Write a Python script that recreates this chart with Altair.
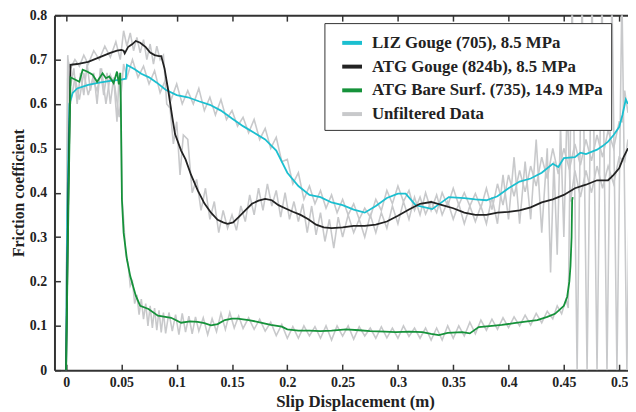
import altair as alt
import pandas as pd

LABELS = ["LIZ Gouge (705), 8.5 MPa", "ATG Gouge (824b), 8.5 MPa",
          "ATG Bare Surf. (735), 14.9 MPa", "Unfiltered Data"]
COLORS = ["#1bbfd0", "#222222", "#15923a", "#c8c9cb"]

# ---------- filtered curves ----------
liz_x = [0.0, 0.001, 0.003, 0.006, 0.01, 0.02, 0.03, 0.04, 0.05, 0.054, 0.055, 0.058, 0.062,
         0.068, 0.075, 0.082, 0.09, 0.1, 0.11, 0.12, 0.13, 0.14, 0.15, 0.16, 0.17, 0.18, 0.19,
         0.2, 0.21, 0.22, 0.23, 0.24, 0.25, 0.26, 0.27, 0.28, 0.29, 0.3, 0.307, 0.316, 0.331,
         0.346, 0.36, 0.37, 0.38, 0.39, 0.4, 0.41, 0.42, 0.43, 0.44, 0.445, 0.45, 0.46, 0.465,
         0.47, 0.48, 0.485, 0.49, 0.495, 0.5, 0.503, 0.506, 0.508]
liz_y = [0.0, 0.35, 0.6, 0.625, 0.635, 0.643, 0.648, 0.652, 0.655, 0.657, 0.688, 0.684, 0.678,
         0.668, 0.66, 0.648, 0.632, 0.62, 0.615, 0.606, 0.598, 0.585, 0.567, 0.55, 0.535, 0.52,
         0.495, 0.445, 0.415, 0.395, 0.39, 0.378, 0.372, 0.362, 0.355, 0.37, 0.388, 0.398,
         0.398, 0.372, 0.363, 0.39, 0.388, 0.385, 0.383, 0.392, 0.41, 0.425, 0.432, 0.445,
         0.465, 0.458, 0.478, 0.48, 0.49, 0.487, 0.497, 0.505, 0.515, 0.53, 0.548, 0.575,
         0.61, 0.6]

atg_x = [0.0, 0.002, 0.004, 0.01, 0.02, 0.03, 0.04, 0.046, 0.05, 0.052, 0.053, 0.056, 0.06,
         0.063, 0.067, 0.072, 0.076, 0.08, 0.084, 0.086, 0.089, 0.0925, 0.096, 0.0985, 0.104,
         0.108, 0.113, 0.119, 0.125, 0.131, 0.137, 0.142, 0.146, 0.151, 0.156, 0.162, 0.168,
         0.174, 0.18, 0.186, 0.192, 0.198, 0.205, 0.212, 0.219, 0.226, 0.233, 0.24, 0.25, 0.26,
         0.27, 0.28, 0.29, 0.3, 0.31, 0.32, 0.33, 0.34, 0.35, 0.36, 0.37, 0.38, 0.39, 0.4, 0.41,
         0.42, 0.43, 0.44, 0.45, 0.46, 0.47, 0.48, 0.49, 0.495, 0.5, 0.504, 0.508]
atg_y = [0.0, 0.4, 0.688, 0.69, 0.695, 0.705, 0.715, 0.72, 0.722, 0.72, 0.714, 0.728, 0.735,
         0.742, 0.738, 0.728, 0.716, 0.71, 0.708, 0.708, 0.68, 0.628, 0.57, 0.532, 0.495,
         0.475, 0.44, 0.405, 0.376, 0.355, 0.339, 0.333, 0.33, 0.333, 0.345, 0.36, 0.375,
         0.382, 0.386, 0.383, 0.372, 0.365, 0.357, 0.35, 0.34, 0.328, 0.322, 0.32, 0.322,
         0.325, 0.325, 0.328, 0.335, 0.348, 0.362, 0.375, 0.379, 0.372, 0.365, 0.355, 0.35,
         0.35, 0.355, 0.357, 0.36, 0.367, 0.378, 0.385, 0.395, 0.41, 0.418, 0.428, 0.428,
         0.44, 0.455, 0.48, 0.5]

bare_x = [0.0, 0.002, 0.004, 0.008, 0.012, 0.015, 0.019, 0.024, 0.028, 0.033, 0.036, 0.039,
          0.043, 0.046, 0.0477, 0.049, 0.0495, 0.0505, 0.052, 0.055, 0.058, 0.063, 0.067,
          0.0745, 0.083, 0.095, 0.104, 0.112, 0.119, 0.125, 0.131, 0.137, 0.1435, 0.15, 0.155,
          0.165, 0.173, 0.185, 0.195, 0.2, 0.21, 0.22, 0.23, 0.24, 0.253, 0.265, 0.275, 0.288,
          0.298, 0.31, 0.322, 0.33, 0.337, 0.345, 0.358, 0.365, 0.373, 0.385, 0.394, 0.405,
          0.417, 0.426, 0.435, 0.442, 0.447, 0.45, 0.453, 0.455, 0.456, 0.457, 0.4575, 0.458]
bare_y = [0.0, 0.35, 0.66, 0.655, 0.65, 0.677, 0.673, 0.666, 0.65, 0.669, 0.658, 0.662, 0.647,
          0.673, 0.644, 0.67, 0.6, 0.383, 0.31, 0.25, 0.212, 0.168, 0.145, 0.138, 0.123, 0.118,
          0.107, 0.11, 0.109, 0.106, 0.101, 0.104, 0.113, 0.116, 0.116, 0.113, 0.109, 0.102,
          0.098, 0.092, 0.089, 0.089, 0.088, 0.089, 0.092, 0.09, 0.088, 0.087, 0.086, 0.087,
          0.086, 0.082, 0.079, 0.084, 0.086, 0.083, 0.097, 0.1, 0.102, 0.106, 0.11, 0.113,
          0.12, 0.127, 0.138, 0.145, 0.165, 0.2, 0.235, 0.3, 0.383, 0.39]

# ---------- unfiltered (raw) data ----------
raw_liz_x = [0.0, 0.0015, 0.004, 0.008, 0.012, 0.016, 0.02, 0.024, 0.028, 0.032, 0.036, 0.04,
             0.044, 0.048, 0.052, 0.055, 0.06, 0.065, 0.07, 0.075, 0.08, 0.085, 0.09, 0.095,
             0.1, 0.105, 0.11, 0.115, 0.12, 0.125, 0.13, 0.135, 0.14, 0.145, 0.15, 0.155, 0.16,
             0.165, 0.17, 0.175, 0.18, 0.185, 0.19, 0.195, 0.2, 0.205, 0.21, 0.215, 0.22, 0.225,
             0.23, 0.235, 0.24, 0.245, 0.25, 0.255, 0.26, 0.265, 0.27, 0.275, 0.28, 0.285, 0.29,
             0.295, 0.3, 0.305, 0.31, 0.315, 0.32, 0.325, 0.33, 0.335, 0.34, 0.345, 0.35, 0.355,
             0.36, 0.365, 0.37, 0.375, 0.38, 0.385, 0.39, 0.395, 0.4, 0.405, 0.41, 0.415, 0.42,
             0.425, 0.43, 0.435, 0.44, 0.445, 0.45, 0.455, 0.46, 0.465, 0.47, 0.475, 0.48, 0.485,
             0.49, 0.495, 0.5, 0.503, 0.505, 0.508]
raw_liz_y = [0.0, 0.71, 0.6, 0.66, 0.61, 0.67, 0.62, 0.655, 0.63, 0.68, 0.6, 0.665, 0.64, 0.57,
             0.69, 0.66, 0.70, 0.66, 0.685, 0.645, 0.675, 0.625, 0.655, 0.61, 0.645, 0.6, 0.63,
             0.6, 0.635, 0.585, 0.615, 0.575, 0.61, 0.565, 0.585, 0.55, 0.57, 0.535, 0.565,
             0.52, 0.545, 0.5, 0.525, 0.47, 0.475, 0.42, 0.445, 0.385, 0.415, 0.375, 0.405,
             0.365, 0.395, 0.355, 0.385, 0.35, 0.375, 0.34, 0.365, 0.345, 0.385, 0.36, 0.405,
             0.375, 0.415, 0.38, 0.405, 0.36, 0.39, 0.352, 0.38, 0.355, 0.4, 0.37, 0.41, 0.372,
             0.4, 0.37, 0.398, 0.366, 0.41, 0.362, 0.42, 0.372, 0.44, 0.392, 0.45, 0.402, 0.46,
             0.415, 0.48, 0.432, 0.5, 0.442, 0.5, 0.452, 0.51, 0.462, 0.52, 0.472, 0.53, 0.48,
             0.54, 0.5, 0.56, 0.56, 0.63, 0.58]

raw_atg_x = [0.0, 0.0015, 0.004, 0.008, 0.012, 0.016, 0.02, 0.025, 0.03, 0.035, 0.04, 0.045,
             0.049, 0.052, 0.055, 0.058, 0.061, 0.064, 0.067, 0.07, 0.073, 0.076, 0.079, 0.082,
             0.085, 0.088, 0.091, 0.094, 0.097, 0.1, 0.103, 0.106, 0.11, 0.114, 0.118, 0.122,
             0.126, 0.13, 0.134, 0.138, 0.142, 0.146, 0.15, 0.154, 0.158, 0.162, 0.166, 0.17,
             0.174, 0.178, 0.182, 0.186, 0.19, 0.194, 0.198, 0.202, 0.206, 0.21, 0.214, 0.218,
             0.222, 0.226, 0.23, 0.234, 0.238, 0.242, 0.246, 0.25, 0.255, 0.26, 0.265, 0.27,
             0.275, 0.28, 0.285, 0.29, 0.295, 0.3, 0.305, 0.31, 0.315, 0.32, 0.325, 0.33, 0.335,
             0.34, 0.345, 0.35, 0.355, 0.36, 0.365, 0.37, 0.375, 0.38, 0.385, 0.39, 0.395, 0.4,
             0.405, 0.41, 0.415, 0.42, 0.425, 0.43, 0.435, 0.438, 0.441, 0.444, 0.447, 0.45,
             0.453, 0.456, 0.46, 0.465, 0.47, 0.475, 0.48, 0.485, 0.49, 0.495, 0.5, 0.505, 0.508]
raw_atg_y = [0.0, 0.7, 0.68, 0.7, 0.685, 0.71, 0.69, 0.72, 0.7, 0.73, 0.705, 0.74, 0.7, 0.765,
             0.73, 0.76, 0.72, 0.75, 0.715, 0.745, 0.7, 0.735, 0.69, 0.73, 0.7, 0.71, 0.6, 0.59,
             0.51, 0.56, 0.44, 0.53, 0.52, 0.4, 0.43, 0.36, 0.41, 0.34, 0.38, 0.31, 0.36, 0.32,
             0.35, 0.315, 0.37, 0.335, 0.395, 0.35, 0.41, 0.36, 0.42, 0.37, 0.405, 0.345, 0.4,
             0.34, 0.38, 0.335, 0.375, 0.31, 0.37, 0.305, 0.355, 0.29, 0.34, 0.275, 0.345, 0.3,
             0.35, 0.31, 0.34, 0.3, 0.35, 0.31, 0.355, 0.32, 0.37, 0.33, 0.38, 0.34, 0.39, 0.35,
             0.4, 0.36, 0.395, 0.35, 0.38, 0.34, 0.375, 0.33, 0.37, 0.335, 0.37, 0.33, 0.39,
             0.33, 0.44, 0.34, 0.48, 0.33, 0.47, 0.34, 0.52, 0.31, 0.5, 0.22, 0.47, 0.26, 0.55,
             0.3, 0.6, 0.38, 0.45, 0.39, 0.45, 0.4, 0.46, 0.41, 0.46, 0.42, 0.48, 0.47, 0.52]

raw_bare_x = [0.0, 0.0015, 0.004, 0.007, 0.01, 0.013, 0.016, 0.019, 0.022, 0.025, 0.028, 0.031,
              0.034, 0.037, 0.04, 0.043, 0.046, 0.048, 0.0495, 0.0505, 0.052, 0.054, 0.056,
              0.058, 0.06, 0.062, 0.064, 0.066, 0.068, 0.07, 0.072, 0.074, 0.076, 0.078, 0.08,
              0.082, 0.084, 0.086, 0.088, 0.09, 0.093, 0.096, 0.099, 0.102, 0.105, 0.108, 0.111,
              0.114, 0.117, 0.12, 0.124, 0.128, 0.132, 0.136, 0.14, 0.144, 0.148, 0.152, 0.156,
              0.16, 0.165, 0.17, 0.175, 0.18, 0.185, 0.19, 0.195, 0.2, 0.205, 0.21, 0.215, 0.22,
              0.225, 0.23, 0.235, 0.24, 0.245, 0.25, 0.255, 0.26, 0.265, 0.27, 0.275, 0.28,
              0.285, 0.29, 0.295, 0.3, 0.305, 0.31, 0.315, 0.32, 0.325, 0.33, 0.335, 0.34, 0.345,
              0.35, 0.355, 0.36, 0.365, 0.37, 0.375, 0.38, 0.385, 0.39, 0.395, 0.4, 0.405, 0.41,
              0.415, 0.42, 0.425, 0.43, 0.435, 0.44, 0.444, 0.448, 0.452, 0.454, 0.4575, 0.462,
              0.4665, 0.471, 0.4755, 0.48, 0.4845, 0.489, 0.4935, 0.498, 0.5025, 0.507, 0.5115]
raw_bare_y = [0.0, 0.66, 0.64, 0.68, 0.6, 0.67, 0.62, 0.69, 0.63, 0.67, 0.6, 0.68, 0.62, 0.67,
              0.6, 0.66, 0.56, 0.67, 0.6, 0.39, 0.34, 0.26, 0.24, 0.19, 0.2, 0.15, 0.17, 0.125,
              0.16, 0.115, 0.15, 0.1, 0.145, 0.095, 0.14, 0.09, 0.135, 0.085, 0.13, 0.083, 0.13,
              0.088, 0.125, 0.08, 0.128, 0.086, 0.122, 0.082, 0.12, 0.088, 0.118, 0.08, 0.116,
              0.087, 0.128, 0.092, 0.13, 0.095, 0.122, 0.094, 0.118, 0.092, 0.115, 0.088, 0.108,
              0.078, 0.103, 0.072, 0.098, 0.072, 0.1, 0.077, 0.098, 0.072, 0.1, 0.068, 0.1,
              0.077, 0.1, 0.07, 0.098, 0.077, 0.095, 0.072, 0.098, 0.073, 0.095, 0.072, 0.1,
              0.076, 0.095, 0.072, 0.095, 0.068, 0.095, 0.068, 0.1, 0.072, 0.1, 0.077, 0.108,
              0.082, 0.113, 0.09, 0.115, 0.092, 0.118, 0.096, 0.12, 0.1, 0.124, 0.102, 0.128,
              0.107, 0.133, 0.116, 0.145, 0.127, 0.16, 0.14, 0.85, 0.0, 0.85, 0.0, 0.85, 0.0,
              0.85, 0.0, 0.85, 0.0, 0.85, 0.0, 0.85]

X_TICKS = [0, 0.05, 0.1, 0.15, 0.2, 0.25, 0.3, 0.35, 0.4, 0.45, 0.5]
Y_TICKS = [0, 0.1, 0.2, 0.3, 0.4, 0.5, 0.6, 0.7, 0.8]

# ---------- tables ----------
def frame(xs, ys, label, run):
    return pd.DataFrame({"x": xs, "y": ys, "label": label, "run": run})

filtered = pd.concat([
    frame(liz_x, liz_y, LABELS[0], "liz"),
    frame(atg_x, atg_y, LABELS[1], "atg"),
    frame(bare_x, bare_y, LABELS[2], "bare"),
])
raw = pd.concat([
    frame(raw_liz_x, raw_liz_y, LABELS[3], "raw_liz"),
    frame(raw_atg_x, raw_atg_y, LABELS[3], "raw_atg"),
    frame(raw_bare_x, raw_bare_y, LABELS[3], "raw_bare"),
])

W, H = 580, 359
FONT = "Liberation Serif"
XDOM = [-0.0105, 0.508]
YDOM = [0, 0.8]
xs = alt.Scale(domain=XDOM, nice=False, zero=False)
ys = alt.Scale(domain=YDOM, nice=False)
color = alt.Color("label:N",
                  scale=alt.Scale(domain=LABELS, range=COLORS),
                  legend=alt.Legend(title=None, orient="none", legendX=273, legendY=8,
                                    symbolType="stroke", symbolSize=400, symbolStrokeWidth=4,
                                    symbolOffset=8,
                                    labelFont=FONT, labelFontSize=17, labelFontWeight="bold",
                                    labelColor="#222", labelLimit=400, labelOffset=8,
                                    rowPadding=4, padding=8, strokeColor="#333",
                                    fillColor="white", symbolOpacity=1))

axis_common = dict(grid=False, labelFont=FONT, labelFontSize=14, labelFontWeight="bold",
                   labelColor="#222", titleFont=FONT,
                   titleFontWeight="bold", titleColor="#222", domainColor="#333",
                   domainWidth=2, tickColor="#333", tickWidth=1.5)

# main layer: raw data, bottom/left axes with labels
gray = alt.Chart(raw).mark_line(strokeWidth=1.6, clip=True).encode(
    x=alt.X("x:Q", scale=xs,
            axis=alt.Axis(values=X_TICKS, format="~g", ticks=False, labelPadding=5,
                          title="Slip Displacement (m)", titleFontSize=17, titlePadding=5,
                          titleX=304, **axis_common)),
    y=alt.Y("y:Q", scale=ys,
            axis=alt.Axis(values=Y_TICKS, format="~g", ticks=False, labelPadding=8,
                          title="Friction coefficient", titleFontSize=16, titlePadding=3,
                          **axis_common)),
    color=color,
    detail="run:N",
)

# filtered layer: inward ticks at bottom (top-orient axis moved down) and left
lines = alt.Chart(filtered).mark_line(strokeWidth=1.8, clip=True).encode(
    x=alt.X("x:Q", scale=xs,
            axis=alt.Axis(orient="top", offset=-H, values=X_TICKS, labels=False,
                          domain=False, tickSize=6, title=None, **axis_common)),
    y=alt.Y("y:Q", scale=ys,
            axis=alt.Axis(orient="right", offset=-W, values=Y_TICKS, labels=False,
                          domain=False, tickSize=6, title=None, **axis_common)),
    color=color,
    detail="run:N",
)

# invisible layer carrying the top frame line with downward ticks
frame_top = alt.Chart(filtered).mark_line(strokeOpacity=0, clip=True).encode(
    x=alt.X("x:Q", scale=xs,
            axis=alt.Axis(orient="bottom", offset=-H, values=X_TICKS, labels=False,
                          domain=True, tickSize=6, title=None, **axis_common)),
    y=alt.Y("y:Q", scale=ys, axis=None),
    detail="run:N",
)

chart = alt.layer(gray, lines, frame_top).resolve_axis(
    x="independent", y="independent"
).properties(
    width=W, height=H,
    autosize=alt.AutoSizeParams(type="none"),
    padding={"left": 47, "top": 5, "right": 0, "bottom": 39},
    background="white",
).configure_view(stroke=None)

chart.save("out.html", embed_options={"renderer": "svg", "actions": False})
